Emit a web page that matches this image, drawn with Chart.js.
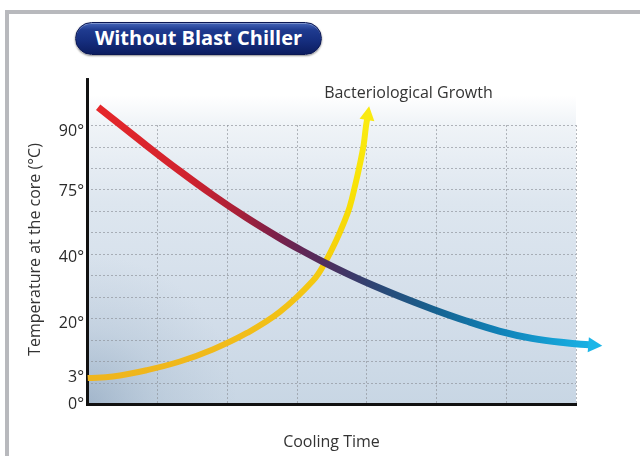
<!DOCTYPE html>
<html>
<head>
<meta charset="utf-8">
<script src="https://cdn.jsdelivr.net/npm/chart.js@4.4.0/dist/chart.umd.min.js"></script>
<style>
html,body{margin:0;padding:0;background:#fff;}
#wrap{position:relative;width:640px;height:456px;overflow:hidden;background:#fff;}
#frame{position:absolute;left:5px;top:10px;right:0;bottom:0;border-top:4px solid #b8b9bd;border-left:4px solid #b8b9bd;}
#pill{position:absolute;left:75px;top:22px;width:247px;height:33px;box-sizing:border-box;border-radius:17px;
  background:linear-gradient(to bottom,#4565b8 0%,#1f3b90 22%,#162f80 55%,#0c1d60 100%);
  border:1px solid #0b1752;box-shadow:0 1px 2px rgba(0,0,0,.45), inset 0 1px 0 rgba(255,255,255,.3);
  color:#fff;font-family:'Open Sans',sans-serif;font-weight:700;font-size:20px;line-height:30px;text-align:center;}
canvas{position:absolute;left:0;top:0;}
</style>
</head>
<body>
<div id="wrap">
  <div id="frame"></div>
  <div id="pill">Without Blast Chiller</div>
  <canvas id="c" width="640" height="456"></canvas>
</div>
<script>
// ---- data (x: cooling time units, y: plot units) ----
const tempX = [0.16, 0.85, 1.33, 1.80, 2.28, 2.76, 3.08, 3.40, 3.76, 4.10, 4.47, 4.94, 5.42, 5.90, 6.37, 6.85, 7.19];
const tempY = [13.83, 12.05, 10.85, 9.74, 8.69, 7.73, 7.14, 6.59, 6.02, 5.52, 5.02, 4.43, 3.88, 3.40, 3.06, 2.85, 2.76];

const bactX = [0.01, 0.37, 0.86, 1.33, 1.80, 2.29, 2.76, 3.23, 3.40, 3.57, 3.67, 3.76, 3.84, 3.91, 3.96, 3.99, 4.01];
const bactY = [1.21, 1.28, 1.58, 1.98, 2.54, 3.31, 4.29, 5.73, 6.55, 7.64, 8.39, 9.18, 10.21, 11.23, 12.07, 12.86, 13.28];

const yTickValues = [12.7, 9.9, 6.85, 3.75, 1.25, 0];
const yTickLabels = ['90°', '75°', '40°', '20°', '3°', '0°'];

const gridRows = [1, 2, 3, 4, 5, 6, 7, 8, 9, 10, 11, 12, 13];
const gridCols = [1, 2, 3, 4, 5, 6, 7];

const xTitle = 'Cooling Time';
const yTitle = 'Temperature at the core (°C)';
const bactLabel = 'Bacteriological Growth';

// ---- styling helpers ----
function tempGradient(chart) {
  const {ctx, chartArea, scales} = chart;
  if (!chartArea) return '#b02040';
  const x0 = scales.x.getPixelForValue(0.14), x1 = scales.x.getPixelForValue(7.37);
  const g = ctx.createLinearGradient(x0, 0, x1, 0);
  g.addColorStop(0.00, '#e6272a');
  g.addColorStop(0.18, '#d0222e');
  g.addColorStop(0.28, '#a82038');
  g.addColorStop(0.35, '#7e2048');
  g.addColorStop(0.41, '#5f2756');
  g.addColorStop(0.49, '#413565');
  g.addColorStop(0.57, '#284a78');
  g.addColorStop(0.67, '#176290');
  g.addColorStop(0.80, '#1082b8');
  g.addColorStop(0.93, '#16a6da');
  g.addColorStop(1.00, '#1cb6e8');
  return g;
}
function bactGradient(chart) {
  const {ctx, chartArea, scales} = chart;
  if (!chartArea) return '#f5d000';
  const y0 = scales.y.getPixelForValue(1.2), y1 = scales.y.getPixelForValue(13.8);
  const g = ctx.createLinearGradient(0, y0, 0, y1);
  g.addColorStop(0.0, '#efb51d');
  g.addColorStop(0.3, '#f3c414');
  g.addColorStop(0.5, '#f6d40a');
  g.addColorStop(0.7, '#f8e205');
  g.addColorStop(1.0, '#faec14');
  return g;
}

const backdropPlugin = {
  id: 'backdrop',
  beforeDraw(chart) {
    const {ctx, chartArea: {left, top, bottom}, scales: {x, y}} = chart;
    const right = x.getPixelForValue(gridCols[gridCols.length - 1]);
    const gTop = y.getPixelForValue(gridRows[gridRows.length - 1]);
    ctx.save();
    const g = ctx.createLinearGradient(0, top, 0, bottom);
    g.addColorStop(0.0, 'rgba(255,255,255,1)');
    g.addColorStop(0.10, '#eff3f7');
    g.addColorStop(0.35, '#dde6ef');
    g.addColorStop(0.70, '#d3deea');
    g.addColorStop(1.0, '#c8d6e4');
    ctx.fillStyle = g;
    ctx.fillRect(left, top, right - left, bottom - top);
    const r = ctx.createRadialGradient(left, bottom, 0, left, bottom, 150);
    r.addColorStop(0, 'rgba(115,142,172,0.45)');
    r.addColorStop(0.5, 'rgba(135,160,185,0.18)');
    r.addColorStop(1, 'rgba(150,170,190,0)');
    ctx.fillStyle = r;
    ctx.fillRect(left, top, right - left, bottom - top);
    // dotted grid
    ctx.setLineDash([2, 2]);
    ctx.lineWidth = 1;
    ctx.strokeStyle = 'rgba(140,145,152,0.65)';
    ctx.beginPath();
    gridRows.forEach(v => {
      const py = Math.round(y.getPixelForValue(v)) + 0.5;
      ctx.moveTo(left, py); ctx.lineTo(right, py);
    });
    gridCols.forEach(v => {
      const px = Math.round(x.getPixelForValue(v)) + 0.5;
      ctx.moveTo(px, gTop); ctx.lineTo(px, bottom);
    });
    ctx.stroke();
    ctx.restore();
  },
  afterDraw(chart) {
    const {ctx, chartArea: {left, top}, scales: {y}} = chart;
    ctx.save();
    // upward extension of the vertical axis
    const bx = Math.round(left - 1.5) + 1.5;
    ctx.strokeStyle = '#111';
    ctx.lineWidth = 3;
    ctx.beginPath();
    ctx.moveTo(bx, y.getPixelForValue(15.19));
    ctx.lineTo(bx, top + 2);
    ctx.stroke();
    // arrow heads
    const heads = [[0, '#1cb6e8'], [1, '#f9ea10']];
    heads.forEach(([i, col]) => {
      const pts = chart.getDatasetMeta(i).data;
      const p = pts[pts.length - 1];
      const q = pts[pts.length - 2];
      let dx = p.x - (p.cp1x !== undefined ? p.cp1x : q.x);
      let dy = p.y - (p.cp1y !== undefined ? p.cp1y : q.y);
      if (Math.hypot(dx, dy) < 0.5) { dx = p.x - q.x; dy = p.y - q.y; }
      const len = Math.hypot(dx, dy); dx /= len; dy /= len;
      const L = 13, W = 7.5;
      ctx.fillStyle = col;
      ctx.beginPath();
      ctx.moveTo(p.x + dx * L, p.y + dy * L);
      ctx.lineTo(p.x - dy * W - dx * 1, p.y + dx * W - dy * 1);
      ctx.lineTo(p.x + dy * W - dx * 1, p.y - dx * W - dy * 1);
      ctx.closePath();
      ctx.fill();
      if (i === 1) {
        ctx.fillStyle = '#333';
        ctx.font = '16px "Open Sans"';
        ctx.textAlign = 'left';
        ctx.textBaseline = 'middle';
        ctx.fillText(bactLabel, p.x - 43, p.y - 26);
      }
    });
    ctx.restore();
  }
};

new Chart(document.getElementById('c'), {
  type: 'line',
  data: {
    datasets: [
      {
        label: 'Temperature at the core',
        data: tempX.map((v, i) => ({x: v, y: tempY[i]})),
        borderColor: c => tempGradient(c.chart),
        borderWidth: 7,
        pointRadius: 0,
        tension: 0.4,
        borderCapStyle: 'butt',
        clip: false
      },
      {
        label: bactLabel,
        data: bactX.map((v, i) => ({x: v, y: bactY[i]})),
        borderColor: c => bactGradient(c.chart),
        borderWidth: 6,
        pointRadius: 0,
        tension: 0.4,
        borderCapStyle: 'butt',
        clip: false
      }
    ]
  },
  options: {
    responsive: false,
    animation: false,
    layout: {padding: {top: 95, right: 64, bottom: 4, left: 20}},
    elements: {line: {capBezierPoints: false}},
    plugins: {legend: {display: false}, tooltip: {enabled: false}},
    scales: {
      x: {
        type: 'linear', min: 0, max: 7,
        grid: {display: false, drawTicks: false},
        border: {display: true, color: '#111', width: 3},
        ticks: {display: false},
        title: {display: true, text: xTitle, color: '#333', font: {family: 'Open Sans', size: 16}, padding: {top: 0, bottom: 0}},
        afterFit: s => { s.height = 48; }
      },
      y: {
        type: 'linear', min: 0, max: 14.4,
        grid: {display: false, drawTicks: false},
        border: {display: true, color: '#111', width: 3},
        afterBuildTicks: s => { s.ticks = yTickValues.map(v => ({value: v})); },
        ticks: {autoSkip: false, padding: 3, color: '#2a2a2a', font: {family: 'Open Sans', size: 16},
          callback: (v, i) => yTickLabels[i]},
        title: {display: true, text: yTitle, color: '#333', font: {family: 'Open Sans', size: 16}, padding: {top: 6, bottom: 0}},
        afterFit: s => { s.width = 67; }
      }
    }
  },
  plugins: [backdropPlugin]
});
</script>
</body>
</html>
